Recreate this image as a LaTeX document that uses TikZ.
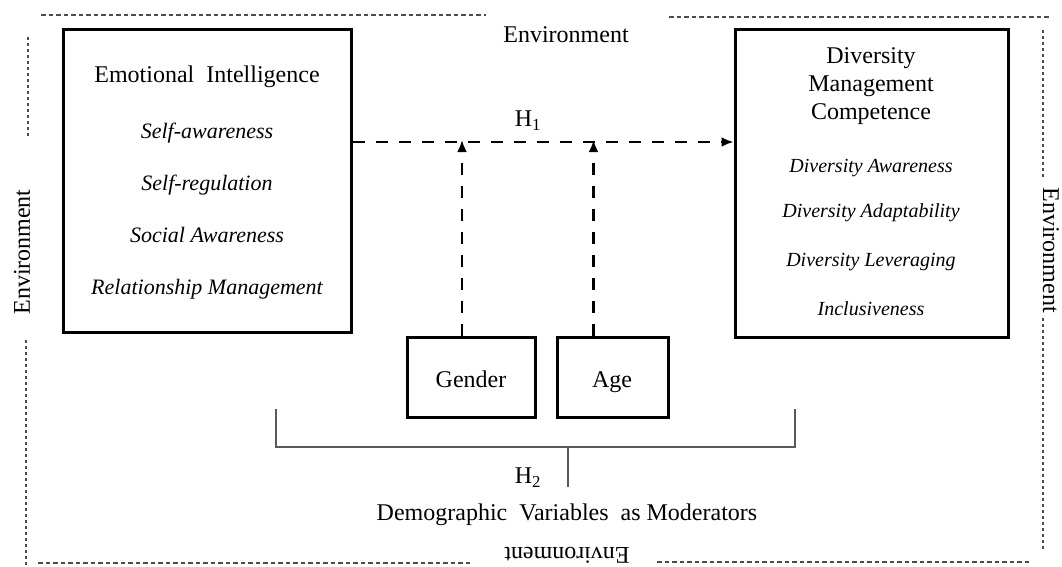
\documentclass[tikz,border=0pt]{standalone}
\usepackage{fontspec}
\setmainfont{Liberation Serif}
\usetikzlibrary{arrows.meta}
\begin{document}
\begin{tikzpicture}[x=1pt,y=-1pt,
  bigbox/.style={draw=black,line width=3pt,inner sep=0pt},
  smallbox/.style={draw=black,line width=3pt,inner sep=0pt,minimum height=80pt},
  txt/.style={inner sep=0pt,font=\fontsize{24}{28}\selectfont},
  itl/.style={inner sep=0pt,font=\fontsize{22}{26}\selectfont\itshape},
  itr/.style={inner sep=0pt,font=\fontsize{20}{24}\selectfont\itshape},
  envtxt/.style={inner sep=0pt,font=\fontsize{24}{28}\selectfont},
  envline/.style={draw=black!70,line width=1.3pt,dash pattern=on 4.5pt off 3pt},
  envdot/.style={draw=black!70,line width=1.3pt,dash pattern=on 3pt off 3pt},
  hyparrow/.style={line width=2.6pt,dash pattern=on 12pt off 11pt,-{Latex[length=12pt,width=10pt]}},
  bracket/.style={draw=black!65,line width=1.8pt}]
\useasboundingbox (0,0) rectangle (1062,567);
\clip (0,0) rectangle (1062,567);
% boxes
\node[bigbox,minimum width=288pt,minimum height=302pt] (ei) at (207,181) {};
\node[bigbox,minimum width=273pt,minimum height=307pt] (dmc) at (871.5,183.5) {};
\node[smallbox,minimum width=128pt] (gender) at (471,377) {};
\node[smallbox,minimum width=111pt] (age) at (612.5,377) {};
% texts in EI
\node[txt] (eit) at (207,77) {Emotional\ \ Intelligence};
\node[itl] (ei1) at (207,133) {Self-awareness};
\node[itl] (ei2) at (207,185) {Self-regulation};
\node[itl] (ei3) at (207,235) {Social Awareness};
\node[itl] (ei4) at (207,289) {Relationship Management};
% texts in DMC
\node[txt,align=center] (dmct) at (871,86) {Diversity\\Management\\Competence};
\node[itr] (d1) at (871,168) {Diversity Awareness};
\node[itr] (d2) at (871,213) {Diversity Adaptability};
\node[itr] (d3) at (871,262) {Diversity Leveraging};
\node[itr] (d4) at (871,309) {Inclusiveness};
% small boxes text
\node[txt,anchor=base] (gt) at (471,387) {Gender};
\node[txt,anchor=base] (at) at (612,387) {Age};
% H1
\coordinate (h1y) at (0,142);
\node[txt] (h1) at (528,121) {H\textsubscript{1}};
\draw[hyparrow] (ei.east |- h1y) -- (dmc.west |- h1y);
\draw[hyparrow,shorten >=-2pt] ([xshift=-9pt]gender.north) -- ([xshift=-9pt]gender.north |- h1y);
\draw[hyparrow,shorten >=-2pt] ([xshift=-19pt]age.north) -- ([xshift=-19pt]age.north |- h1y);
% bracket
\coordinate (bl) at (276,409);
\coordinate (br) at (795,409);
\coordinate (bm) at (568,447);
\coordinate (bs) at (568,487);
\draw[bracket] (bl) -- (bl |- bm) -- (br |- bm) -- (br);
\draw[bracket] (bm) -- (bs);
\node[txt] (h2) at (528,478) {H\textsubscript{2}};
\node[txt] (demo) at (567,515) {Demographic\ \ Variables\ \ as Moderators};
% environment
\node[envtxt] (envt) at (566,35) {Environment};
\node[envtxt,rotate=90] (envl) at (22,252) {Environment};
\node[envtxt,rotate=-90] (envr) at (1051,250) {Environment};
\node[envtxt,rotate=180] (envb) at (567,555) {Environment};
\draw[envline] (41,15) -- (486,15);
\draw[envline] (669,17) -- (1049,17);
\draw[envdot] (28,37) -- (28,137);
\draw[envdot] (26,340) -- (26,567);
\draw[envdot] (1043,30) -- (1043,180);
\draw[envdot] (1043,318) -- (1043,550);
\draw[envline] (38,563) -- (471,563);
\draw[envline] (657,562) -- (1030,562);
\end{tikzpicture}
\end{document}
